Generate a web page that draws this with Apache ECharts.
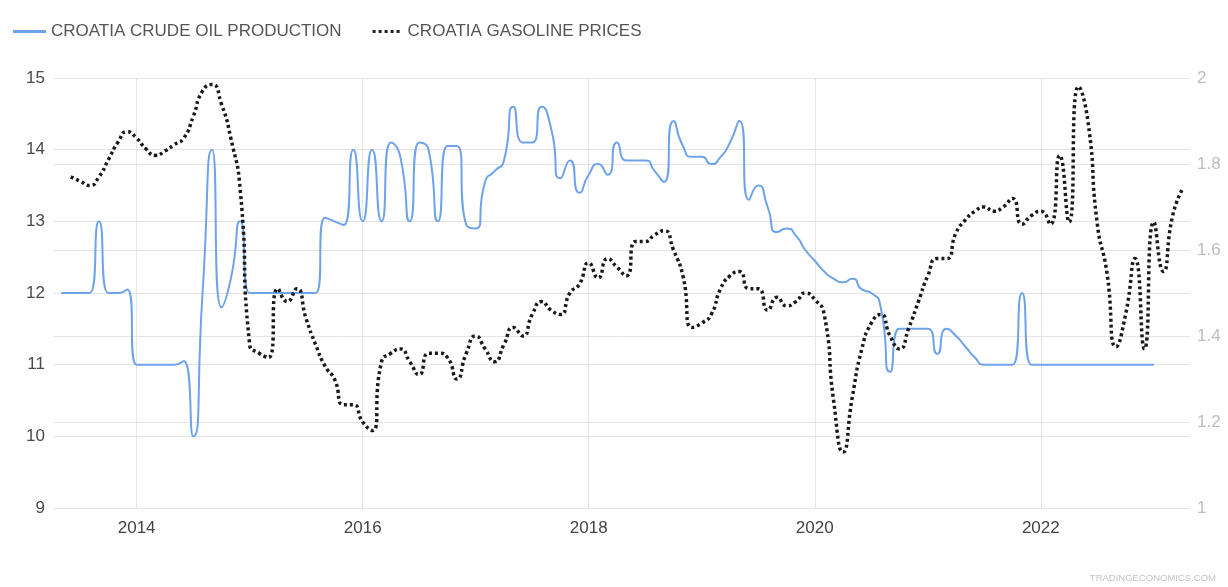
<!DOCTYPE html>
<html>
<head>
<meta charset="utf-8">
<script src="https://cdn.jsdelivr.net/npm/echarts@6/dist/echarts.min.js"></script>
<style>
html,body{margin:0;padding:0;background:#fff;}
#chart{width:1228px;height:587px;}
</style>
</head>
<body>
<div id="chart"></div>
<script>
// Monthly categories (May 2013 .. Apr 2023)
var months = [
  '2013-05','2013-06','2013-07','2013-08','2013-09','2013-10','2013-11','2013-12',
  '2014-01','2014-02','2014-03','2014-04','2014-05','2014-06','2014-07','2014-08','2014-09','2014-10','2014-11','2014-12',
  '2015-01','2015-02','2015-03','2015-04','2015-05','2015-06','2015-07','2015-08','2015-09','2015-10','2015-11','2015-12',
  '2016-01','2016-02','2016-03','2016-04','2016-05','2016-06','2016-07','2016-08','2016-09','2016-10','2016-11','2016-12',
  '2017-01','2017-02','2017-03','2017-04','2017-05','2017-06','2017-07','2017-08','2017-09','2017-10','2017-11','2017-12',
  '2018-01','2018-02','2018-03','2018-04','2018-05','2018-06','2018-07','2018-08','2018-09','2018-10','2018-11','2018-12',
  '2019-01','2019-02','2019-03','2019-04','2019-05','2019-06','2019-07','2019-08','2019-09','2019-10','2019-11','2019-12',
  '2020-01','2020-02','2020-03','2020-04','2020-05','2020-06','2020-07','2020-08','2020-09','2020-10','2020-11','2020-12',
  '2021-01','2021-02','2021-03','2021-04','2021-05','2021-06','2021-07','2021-08','2021-09','2021-10','2021-11','2021-12',
  '2022-01','2022-02','2022-03','2022-04','2022-05','2022-06','2022-07','2022-08','2022-09','2022-10','2022-11','2022-12',
  '2023-01','2023-02','2023-03','2023-04'
];

// Croatia crude oil production (left axis)
var oilProduction = [
  12.0,12.0,12.0,12.0,13.0,12.0,12.0,12.05,
  11.0,11.0,11.0,11.0,11.0,11.05,10.0,12.0,14.0,11.8,12.2,13.0,
  12.0,12.0,12.0,12.0,12.0,12.0,12.0,12.0,13.05,13.0,12.95,14.0,
  13.0,14.0,13.0,14.1,13.9,13.0,14.1,14.0,13.0,14.05,14.05,12.95,
  12.9,13.55,13.7,13.85,14.6,14.1,14.1,14.6,14.3,13.6,13.85,13.4,
  13.65,13.8,13.65,14.1,13.85,13.85,13.85,13.7,13.55,14.4,14.05,13.9,
  13.9,13.8,13.9,14.1,14.4,13.3,13.5,13.2,12.85,12.9,12.8,12.6,
  12.45,12.3,12.2,12.15,12.2,12.05,12.0,11.8,10.9,11.5,11.5,11.5,
  11.5,11.15,11.5,11.4,11.25,11.1,11.0,11.0,11.0,11.0,12.0,11.0,
  11.0,11.0,11.0,11.0,11.0,11.0,11.0,11.0,11.0,11.0,11.0,11.0,
  11.0,null,null,null
];

// Croatia gasoline prices (right axis)
var gasolinePrices = [
  null,1.77,1.76,1.75,1.77,1.81,1.85,1.875,
  1.86,1.835,1.82,1.83,1.845,1.86,1.91,1.97,1.985,1.94,1.86,1.74,
  1.38,1.36,1.35,1.51,1.48,1.51,1.44,1.38,1.33,1.30,1.24,1.24,
  1.20,1.18,1.34,1.36,1.37,1.34,1.31,1.36,1.36,1.35,1.30,1.36,
  1.40,1.37,1.34,1.38,1.42,1.40,1.45,1.48,1.46,1.45,1.50,1.52,
  1.57,1.535,1.58,1.56,1.54,1.62,1.62,1.635,1.645,1.60,1.54,1.42,
  1.43,1.45,1.51,1.54,1.55,1.51,1.51,1.46,1.49,1.47,1.48,1.50,
  1.485,1.45,1.25,1.13,1.26,1.37,1.43,1.45,1.40,1.37,1.42,1.48,
  1.54,1.58,1.58,1.64,1.67,1.69,1.70,1.69,1.70,1.72,1.66,1.68,
  1.69,1.66,1.82,1.665,1.98,1.90,1.66,1.55,1.375,1.45,1.58,1.37,
  1.665,1.55,1.68,1.74
];

var leftTicks = { min: 9, max: 15, interval: 1 };
var rightTicks = { min: 1, max: 2, interval: 0.2 };
var seriesNames = ['CROATIA CRUDE OIL PRODUCTION', 'CROATIA GASOLINE PRICES'];

function toYear(m) {
  var p = m.split('-');
  return (+p[0]) + (+p[1] - 1) / 12;
}
function pairs(vals) {
  var out = [];
  for (var i = 0; i < months.length; i++) {
    if (vals[i] != null) out.push([toYear(months[i]), vals[i]]);
  }
  return out;
}

var FONT = '"Liberation Sans", Arial, sans-serif';
var chart = echarts.init(document.getElementById('chart'), null, { renderer: 'canvas' });
chart.setOption({
  animation: false,
  backgroundColor: '#ffffff',
  textStyle: { fontFamily: FONT },
  legend: {
    left: 8,
    top: 18,
    itemWidth: 33,
    itemHeight: 3,
    itemGap: 31,
    textStyle: { fontSize: 17, color: '#555', fontFamily: FONT },
    data: [
      { name: seriesNames[0], icon: 'rect', itemStyle: { color: '#6ea3ea' } },
      { name: seriesNames[1], icon: 'path://M0,0h3v3h-3z M6,0h3v3h-3z M12,0h3v3h-3z M18,0h3v3h-3z M24,0h3v3h-3z', itemStyle: { color: '#222' } }
    ]
  },
  grid: { left: 53, right: 38, top: 78, bottom: 79, containLabel: false },
  xAxis: {
    type: 'value',
    min: 2013.26,
    max: 2023.32,
    axisLine: { show: false },
    axisTick: { show: false },
    splitLine: { show: true, showMinLine: false, showMaxLine: false, lineStyle: { color: '#e4e4e4', width: 1 } },
    axisLabel: {
      margin: 12,
      fontSize: 17,
      color: '#444',
      showMinLabel: false,
      showMaxLabel: false,
      formatter: function (v) { return Math.abs(v - Math.round(v)) < 1e-6 ? String(Math.round(v)) : ''; }
    }
  },
  yAxis: [
    {
      type: 'value',
      position: 'left',
      min: leftTicks.min, max: leftTicks.max, interval: leftTicks.interval,
      axisLine: { show: false },
      axisTick: { show: false },
      splitLine: { show: true, lineStyle: { color: '#e4e4e4', width: 1 } },
      axisLabel: { margin: 8, fontSize: 17, color: '#4a4a4a' }
    },
    {
      type: 'value',
      position: 'right',
      min: rightTicks.min, max: rightTicks.max, interval: rightTicks.interval,
      axisLine: { show: false },
      axisTick: { show: false },
      splitLine: { show: true, lineStyle: { color: '#e4e4e4', width: 1 } },
      axisLabel: { margin: 7, fontSize: 17, color: '#bdbdbd',
        formatter: function (v) { return String(Math.round(v * 10) / 10); } }
    }
  ],
  series: [
    {
      name: seriesNames[0],
      type: 'line',
      yAxisIndex: 0,
      data: pairs(oilProduction),
      smooth: 0.7,
      showSymbol: false,
      symbol: 'none',
      lineStyle: { color: '#6ea3ea', width: 2 },
      itemStyle: { color: '#6ea3ea' },
      z: 2
    },
    {
      name: seriesNames[1],
      type: 'line',
      yAxisIndex: 1,
      data: pairs(gasolinePrices),
      smooth: 0.6,
      showSymbol: false,
      symbol: 'none',
      lineStyle: { color: '#1a1a1a', width: 3.5, type: [3, 3], cap: 'butt' },
      itemStyle: { color: '#1a1a1a' },
      z: 3
    }
  ],
  graphic: [
    {
      type: 'text',
      right: 12,
      bottom: 4,
      style: { text: 'TRADINGECONOMICS.COM', fontSize: 9.5, fill: '#c4c4c4', fontFamily: FONT }
    }
  ]
});
</script>
</body>
</html>
